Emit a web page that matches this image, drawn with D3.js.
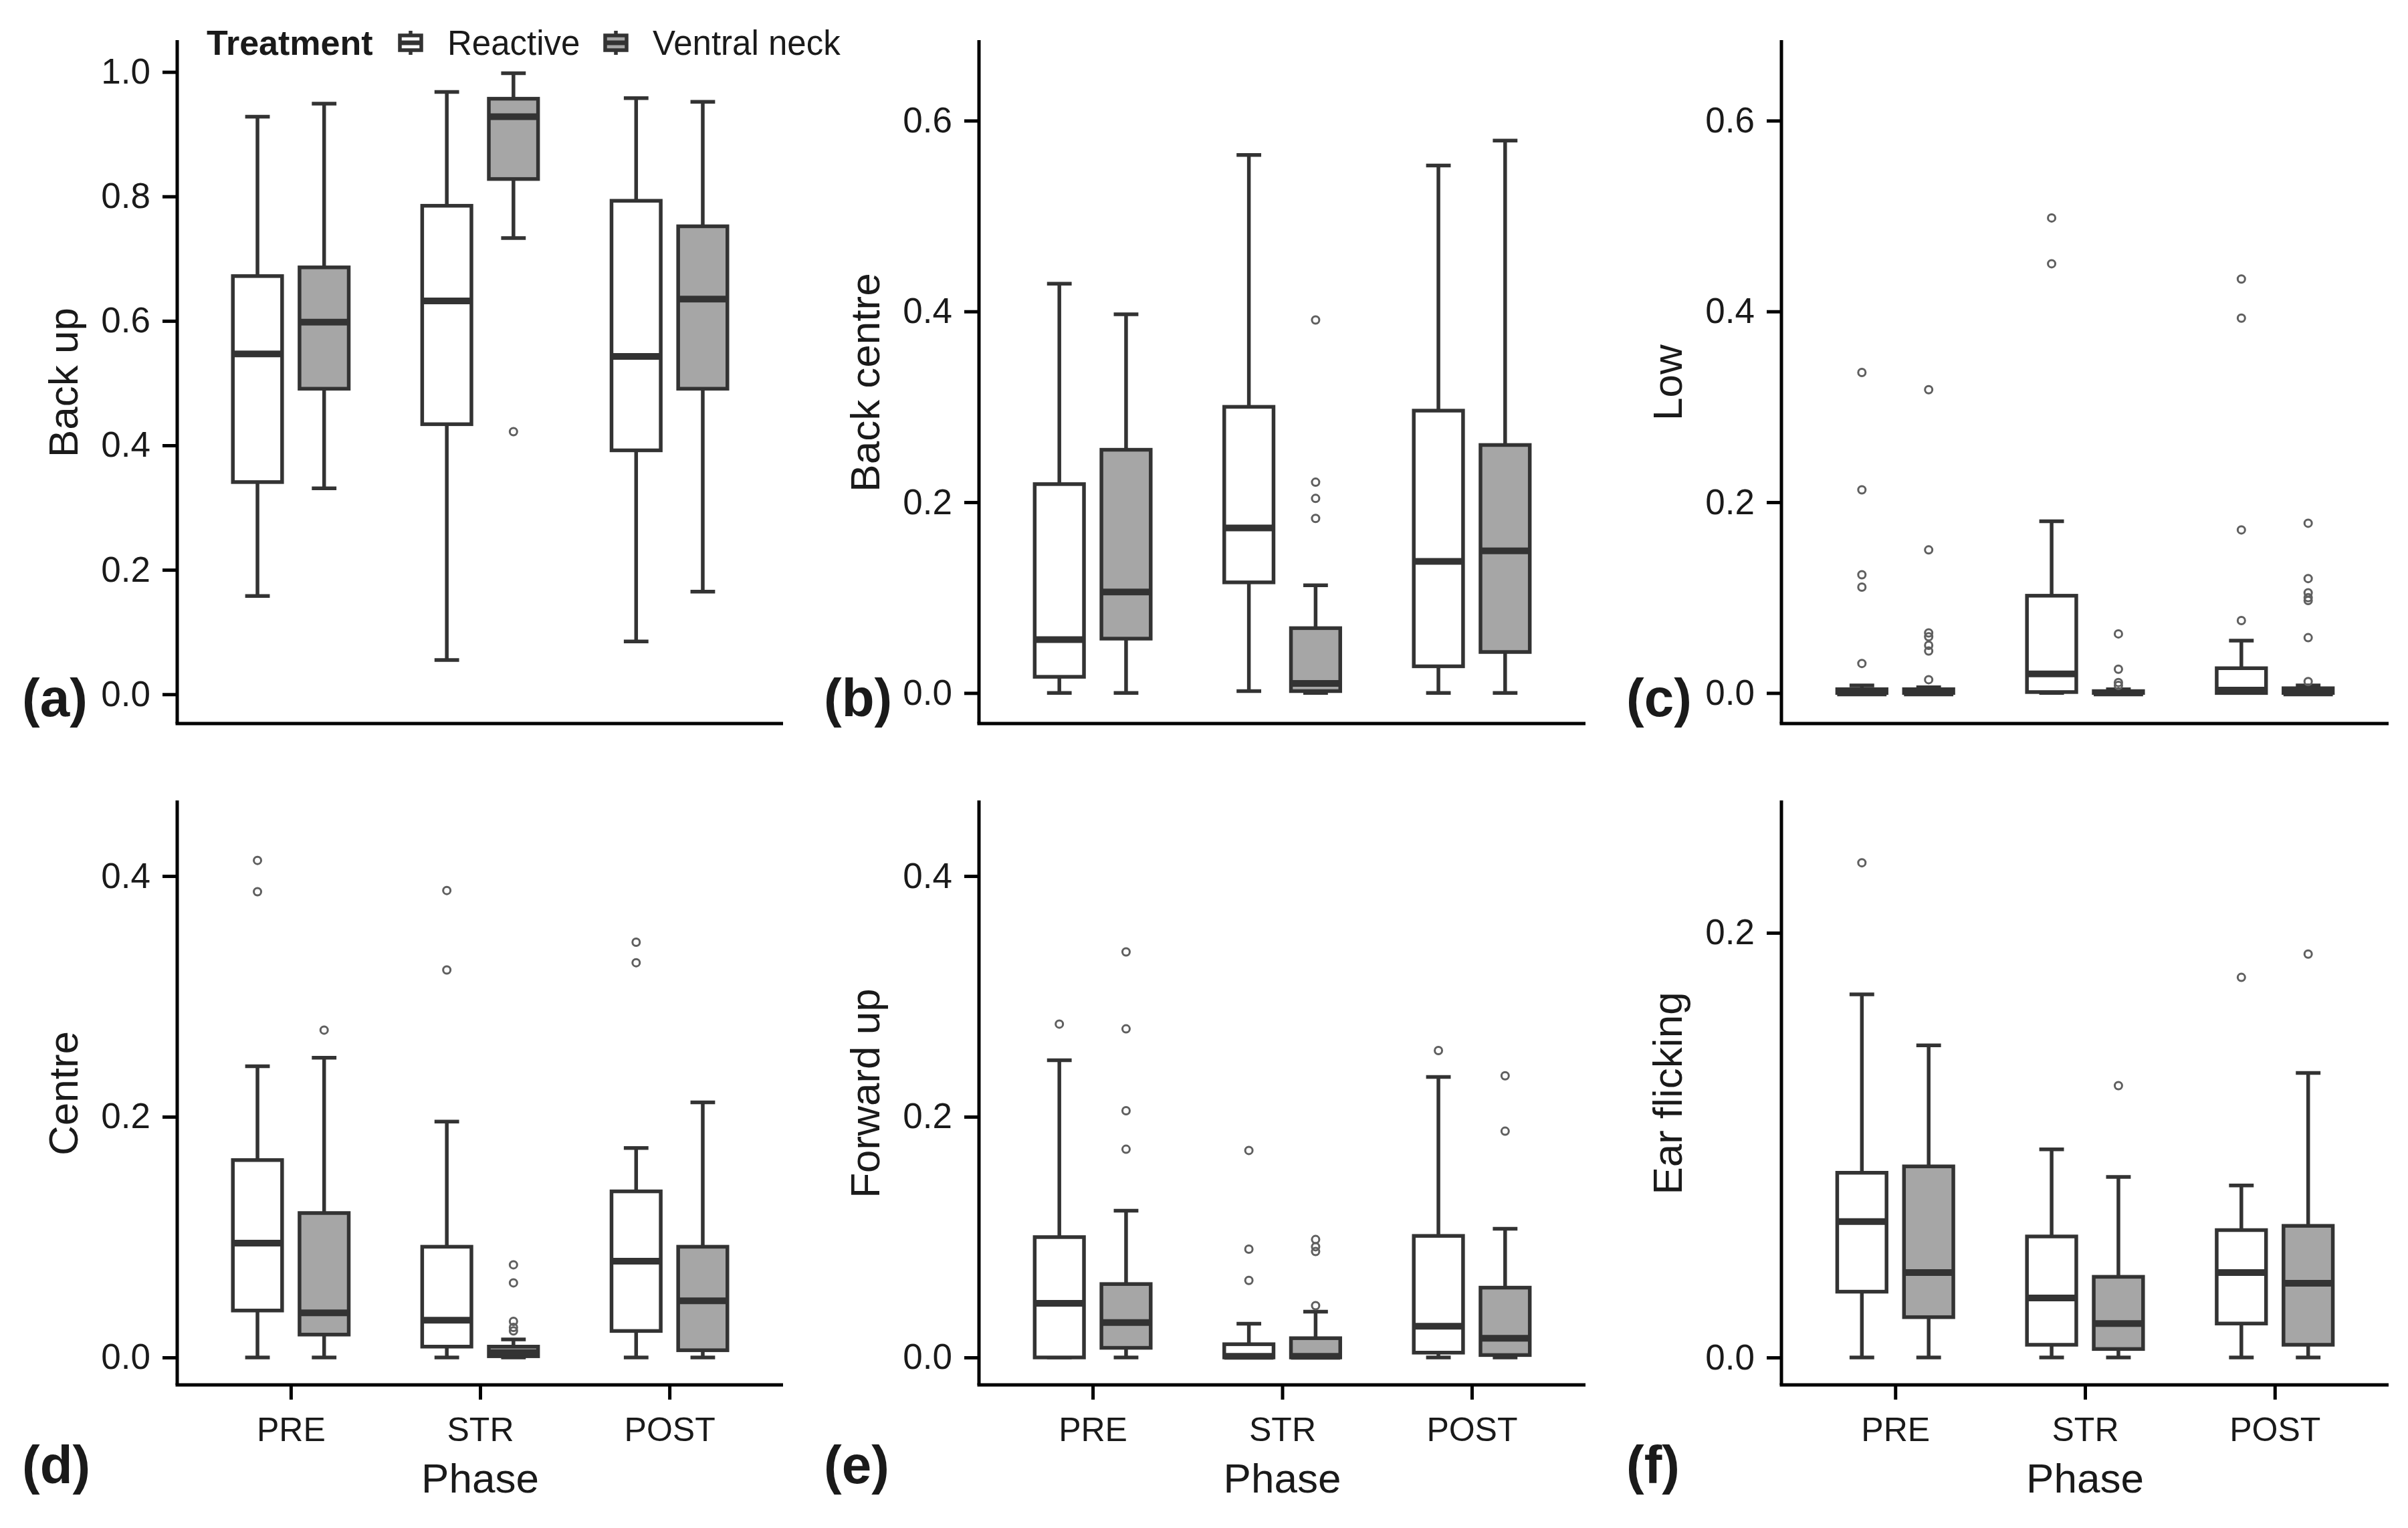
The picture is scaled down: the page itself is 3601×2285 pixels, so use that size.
<!DOCTYPE html>
<html>
<head>
<meta charset="utf-8">
<script src="https://cdn.jsdelivr.net/npm/d3@7"></script>
<style>
	body { margin: 0; background: #fff; }
	text { font-family: "Liberation Sans", Arial, sans-serif; fill: #1a1a1a; }
</style>
</head>
<body>
<script>
// categories
const phases = ["PRE", "STR", "POST"];
const treatments = ["Reactive", "Ventral neck"];

// box stats per panel: [phase, treatment, lower whisker, q1, median, q3, upper whisker]
const backUpStats = [
	["PRE", "Reactive", 0.158, 0.341, 0.547, 0.672, 0.928],
	["PRE", "Ventral neck", 0.331, 0.491, 0.598, 0.686, 0.949],
	["STR", "Reactive", 0.055, 0.434, 0.632, 0.785, 0.968],
	["STR", "Ventral neck", 0.733, 0.828, 0.928, 0.957, 0.998],
	["POST", "Reactive", 0.085, 0.392, 0.543, 0.793, 0.958],
	["POST", "Ventral neck", 0.165, 0.491, 0.635, 0.752, 0.952]
];
const backUpOutliers = [["STR", "Ventral neck", 0.422]];

const backCentreStats = [
	["PRE", "Reactive", 0, 0.017, 0.056, 0.219, 0.429],
	["PRE", "Ventral neck", 0, 0.057, 0.106, 0.255, 0.397],
	["STR", "Reactive", 0.002, 0.116, 0.173, 0.300, 0.564],
	["STR", "Ventral neck", 0, 0.002, 0.010, 0.068, 0.113],
	["POST", "Reactive", 0, 0.028, 0.138, 0.296, 0.553],
	["POST", "Ventral neck", 0, 0.043, 0.149, 0.260, 0.579]
];
const backCentreOutliers = [
	["STR", "Ventral neck", 0.391], ["STR", "Ventral neck", 0.221],
	["STR", "Ventral neck", 0.204], ["STR", "Ventral neck", 0.183]
];

const lowStats = [
	["PRE", "Reactive", 0, 0, 0, 0.004, 0.008],
	["PRE", "Ventral neck", 0, 0, 0, 0.004, 0.006],
	["STR", "Reactive", 0, 0.001, 0.020, 0.102, 0.180],
	["STR", "Ventral neck", 0, 0, 0, 0.002, 0.004],
	["POST", "Reactive", 0, 0, 0.003, 0.026, 0.055],
	["POST", "Ventral neck", 0, 0, 0, 0.005, 0.008]
];
const lowOutliers = [
	["PRE", "Reactive", 0.336], ["PRE", "Reactive", 0.213], ["PRE", "Reactive", 0.124],
	["PRE", "Reactive", 0.111], ["PRE", "Reactive", 0.031],
	["PRE", "Ventral neck", 0.318], ["PRE", "Ventral neck", 0.150], ["PRE", "Ventral neck", 0.063],
	["PRE", "Ventral neck", 0.059], ["PRE", "Ventral neck", 0.050], ["PRE", "Ventral neck", 0.044],
	["PRE", "Ventral neck", 0.014],
	["STR", "Reactive", 0.498], ["STR", "Reactive", 0.450],
	["STR", "Ventral neck", 0.062], ["STR", "Ventral neck", 0.025],
	["STR", "Ventral neck", 0.011], ["STR", "Ventral neck", 0.008],
	["POST", "Reactive", 0.434], ["POST", "Reactive", 0.393],
	["POST", "Reactive", 0.171], ["POST", "Reactive", 0.076],
	["POST", "Ventral neck", 0.178], ["POST", "Ventral neck", 0.120], ["POST", "Ventral neck", 0.105],
	["POST", "Ventral neck", 0.100], ["POST", "Ventral neck", 0.097], ["POST", "Ventral neck", 0.058],
	["POST", "Ventral neck", 0.012]
];

const centreStats = [
	["PRE", "Reactive", 0, 0.039, 0.095, 0.164, 0.242],
	["PRE", "Ventral neck", 0, 0.019, 0.037, 0.120, 0.249],
	["STR", "Reactive", 0, 0.009, 0.031, 0.092, 0.196],
	["STR", "Ventral neck", 0, 0.001, 0.004, 0.009, 0.015],
	["POST", "Reactive", 0, 0.022, 0.080, 0.138, 0.174],
	["POST", "Ventral neck", 0, 0.006, 0.047, 0.092, 0.212]
];
const centreOutliers = [
	["PRE", "Reactive", 0.413], ["PRE", "Reactive", 0.387],
	["PRE", "Ventral neck", 0.272],
	["STR", "Reactive", 0.388], ["STR", "Reactive", 0.322],
	["STR", "Ventral neck", 0.077], ["STR", "Ventral neck", 0.062], ["STR", "Ventral neck", 0.030],
	["STR", "Ventral neck", 0.025], ["STR", "Ventral neck", 0.022],
	["POST", "Reactive", 0.345], ["POST", "Reactive", 0.328]
];

const forwardUpStats = [
	["PRE", "Reactive", 0, 0, 0.045, 0.100, 0.247],
	["PRE", "Ventral neck", 0, 0.008, 0.029, 0.061, 0.122],
	["STR", "Reactive", 0, 0, 0.001, 0.011, 0.028],
	["STR", "Ventral neck", 0, 0, 0.001, 0.016, 0.038],
	["POST", "Reactive", 0, 0.004, 0.026, 0.101, 0.233],
	["POST", "Ventral neck", 0, 0.002, 0.016, 0.058, 0.107]
];
const forwardUpOutliers = [
	["PRE", "Reactive", 0.277],
	["PRE", "Ventral neck", 0.337], ["PRE", "Ventral neck", 0.273],
	["PRE", "Ventral neck", 0.205], ["PRE", "Ventral neck", 0.173],
	["STR", "Reactive", 0.172], ["STR", "Reactive", 0.090], ["STR", "Reactive", 0.064],
	["STR", "Ventral neck", 0.098], ["STR", "Ventral neck", 0.092],
	["STR", "Ventral neck", 0.088], ["STR", "Ventral neck", 0.043],
	["POST", "Reactive", 0.255],
	["POST", "Ventral neck", 0.234], ["POST", "Ventral neck", 0.188]
];

const earFlickingStats = [
	["PRE", "Reactive", 0, 0.031, 0.064, 0.087, 0.171],
	["PRE", "Ventral neck", 0, 0.019, 0.040, 0.090, 0.147],
	["STR", "Reactive", 0, 0.006, 0.028, 0.057, 0.098],
	["STR", "Ventral neck", 0, 0.004, 0.016, 0.038, 0.085],
	["POST", "Reactive", 0, 0.016, 0.040, 0.060, 0.081],
	["POST", "Ventral neck", 0, 0.006, 0.035, 0.062, 0.134]
];
const earFlickingOutliers = [
	["PRE", "Reactive", 0.233],
	["STR", "Ventral neck", 0.128],
	["POST", "Reactive", 0.179],
	["POST", "Ventral neck", 0.190]
];

// axis titles, letters, limits and tick labels
const panelLetters = ["(a)", "(b)", "(c)", "(d)", "(e)", "(f)"];
const yTitles = ["Back up", "Back centre", "Low", "Centre", "Forward up", "Ear flicking"];
const yLimits = [[-0.047, 1.049], [-0.032, 0.683], [-0.032, 0.683], [-0.0228, 0.4617], [-0.0228, 0.4617], [-0.0129, 0.2617]];
const yTickValues = [[0, 0.2, 0.4, 0.6, 0.8, 1.0], [0, 0.2, 0.4, 0.6], [0, 0.2, 0.4, 0.6], [0, 0.2, 0.4], [0, 0.2, 0.4], [0, 0.2]];
const allStats = [backUpStats, backCentreStats, lowStats, centreStats, forwardUpStats, earFlickingStats];
const allOutliers = [backUpOutliers, backCentreOutliers, lowOutliers, centreOutliers, forwardUpOutliers, earFlickingOutliers];

// layout of the 2x3 grid
var width = 3601, height = 2285;
var colX = [[265, 1171], [1464, 2371], [2664, 3572]];
var rowY = [[62, 1082], [1199, 2071]];
var lineCol = "#333333";
var lw = 5.5;

var svg = d3.select("body").append("svg")
	.attr("width", width)
	.attr("height", height);

var fill = d3.scaleOrdinal().domain(treatments).range(["#ffffff", "#a6a6a6"]);

for (let p = 0; p < 6; p++) {
	let col = p % 3, row = Math.floor(p / 3);
	let x0 = colX[col][0], x1 = colX[col][1];
	let yTop = rowY[row][0], yBot = rowY[row][1];

	var x = d3.scalePoint().domain(phases).range([x0, x1]).padding(0.6);
	var step = x.step();
	var dodge = d3.scaleOrdinal().domain(treatments).range([-0.176 * step, 0.176 * step]);
	var boxW = 0.26 * step, capW = 0.13 * step;
	var y = d3.scaleLinear().domain(yLimits[p]).range([yBot, yTop]);

	var g = svg.append("g");

	// y axis
	var yAxis = g.append("g")
		.attr("transform", "translate(" + x0 + ",0)")
		.call(d3.axisLeft(y).tickValues(yTickValues[p]).tickFormat(d3.format(".1f")).tickSize(22).tickPadding(18));
	yAxis.select(".domain").attr("d", "M0," + (yTop - 2) + "V" + yBot).attr("stroke", "#000").attr("stroke-width", 5);
	yAxis.selectAll(".tick line").attr("stroke", "#000").attr("stroke-width", 5);
	yAxis.selectAll(".tick text")
		.attr("font-size", 53)
		.attr("fill", "#1a1a1a")
		.style("font-family", "'Liberation Sans', Arial, sans-serif");

	// x axis (ticks and labels only on the bottom row)
	var xAxis = g.append("g")
		.attr("transform", "translate(0," + yBot + ")")
		.call(d3.axisBottom(x).tickSize(row == 1 ? 22 : 0).tickPadding(26));
	xAxis.select(".domain").attr("d", "M" + (x0 - 2.5) + ",0H" + x1).attr("stroke", "#000").attr("stroke-width", 5);
	xAxis.selectAll(".tick line").attr("stroke", "#000").attr("stroke-width", 5);
	xAxis.selectAll(".tick text")
		.attr("font-size", 50)
		.attr("fill", "#1a1a1a")
		.style("font-family", "'Liberation Sans', Arial, sans-serif")
		.style("display", row == 1 ? null : "none");

	if (row == 1) {
		g.append("text")
			.attr("x", (x0 + x1) / 2)
			.attr("y", yBot + 161)
			.attr("text-anchor", "middle")
			.attr("font-size", 62)
			.text("Phase");
	}

	// y axis title
	g.append("text")
		.attr("transform", "translate(" + (x0 - 149) + "," + ((yTop + yBot) / 2) + ") rotate(-90)")
		.attr("text-anchor", "middle")
		.attr("font-size", 62)
		.text(yTitles[p]);

	// panel letter
	g.append("text")
		.attr("x", x0 - 232)
		.attr("y", row == 0 ? 1071 : 2218)
		.attr("font-size", 80)
		.attr("font-weight", "bold")
		.text(panelLetters[p]);

	var stats = allStats[p];
	var cx = d => x(d[0]) + dodge(d[1]);

	// whiskers
	g.selectAll(".whisker")
		.data(stats)
		.enter().append("path")
		.attr("d", d => "M" + cx(d) + "," + y(d[6]) + "V" + y(d[5]) + "M" + cx(d) + "," + y(d[3]) + "V" + y(d[2]))
		.attr("stroke", lineCol)
		.attr("stroke-width", lw)
		.attr("fill", "none");

	// whisker caps
	g.selectAll(".cap")
		.data(stats)
		.enter().append("path")
		.attr("d", d => "M" + (cx(d) - capW / 2) + "," + y(d[6]) + "h" + capW + "M" + (cx(d) - capW / 2) + "," + y(d[2]) + "h" + capW)
		.attr("stroke", lineCol)
		.attr("stroke-width", lw)
		.attr("fill", "none");

	// boxes
	g.selectAll(".box")
		.data(stats)
		.enter().append("rect")
		.attr("x", d => cx(d) - boxW / 2)
		.attr("y", d => y(d[5]))
		.attr("width", boxW)
		.attr("height", d => y(d[3]) - y(d[5]))
		.attr("fill", d => fill(d[1]))
		.attr("stroke", lineCol)
		.attr("stroke-width", lw);

	// medians
	g.selectAll(".median")
		.data(stats)
		.enter().append("line")
		.attr("x1", d => cx(d) - boxW / 2)
		.attr("x2", d => cx(d) + boxW / 2)
		.attr("y1", d => y(d[4]))
		.attr("y2", d => y(d[4]))
		.attr("stroke", lineCol)
		.attr("stroke-width", 10);

	// outliers
	g.selectAll(".outlier")
		.data(allOutliers[p])
		.enter().append("circle")
		.attr("cx", d => x(d[0]) + dodge(d[1]))
		.attr("cy", d => y(d[2]))
		.attr("r", 5.5)
		.attr("fill", "none")
		.attr("stroke", "#5f5f5f")
		.attr("stroke-width", 3);
}

// legend
var legend = svg.append("g").attr("transform", "translate(0,64)");
legend.append("text")
	.attr("x", 309)
	.attr("y", 18)
	.attr("font-size", 52)
	.attr("font-weight", "bold")
	.text("Treatment");

var keyX = d3.scaleOrdinal().domain(treatments).range([614, 921]);
var keys = legend.selectAll(".key")
	.data(treatments)
	.enter().append("g")
	.attr("transform", d => "translate(" + keyX(d) + ",0)");
keys.append("path")
	.attr("d", "M0,-18V-11M0,11V18")
	.attr("stroke", lineCol)
	.attr("stroke-width", lw);
keys.append("rect")
	.attr("x", -16).attr("y", -11)
	.attr("width", 32).attr("height", 22)
	.attr("fill", d => fill(d))
	.attr("stroke", lineCol)
	.attr("stroke-width", lw);
keys.append("line")
	.attr("x1", -16).attr("x2", 16)
	.attr("stroke", lineCol)
	.attr("stroke-width", 7);
keys.append("text")
	.attr("x", 55)
	.attr("y", 18)
	.attr("font-size", 51)
	.text(d => d);
</script>
</body>
</html>
